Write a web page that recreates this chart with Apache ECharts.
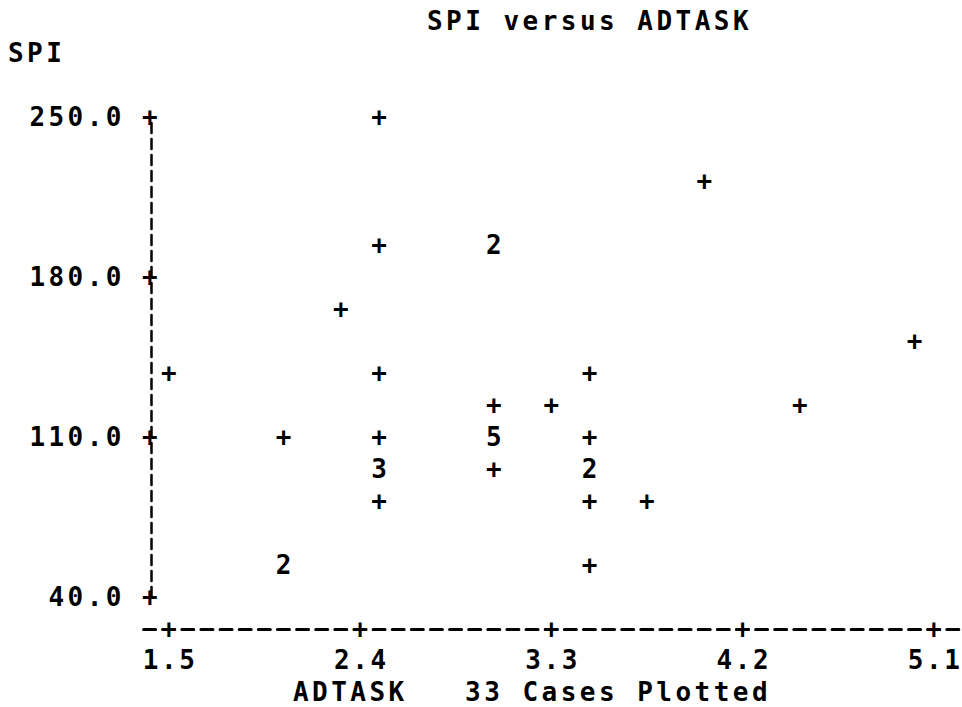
<!DOCTYPE html>
<html>
<head>
<meta charset="utf-8">
<script src="https://cdn.jsdelivr.net/npm/echarts@6/dist/echarts.min.js"></script>
<style>
  html, body { margin: 0; padding: 0; background: #fff; }
  #main { width: 962px; height: 707px; }
  #main text { letter-spacing: 3.47px; white-space: pre; }
  #main text[text-anchor="middle"] { letter-spacing: 2.6px; }
</style>
</head>
<body>
<div id="main"></div>
<script>
// Data (ADTASK, SPI, number of cases at that cell)
const adtask = [2.49, 2.49, 3.03, 4.02, 2.31, 5.01, 1.50, 2.49, 3.48, 3.03, 3.30, 4.47, 2.04, 2.49, 3.03, 3.48, 2.49, 3.03, 3.48, 2.49, 3.48, 3.75, 2.04, 3.48];
const spi    = [250,  194,  194,  222,  166,  152,  138,  138,  138,  124,  124,  124,  110,  110,  110,  110,  96,   96,   96,   82,   82,   82,   54,   54];
const cases  = [1,    1,    2,    1,    1,    1,    1,    1,    1,    1,    1,    1,    1,    1,    5,    1,    3,    1,    2,    1,    1,    1,    2,    1];
const xTicks = [1.5, 2.4, 3.3, 4.2, 5.1];
const yTicks = [40, 110, 180, 250];
const titleText = 'SPI versus ADTASK';
const yName = 'SPI';
const footer = 'ADTASK   33 Cases Plotted';

const FONT = 'DejaVu Sans Mono';
const FS = 26;
const txt = { fontFamily: FONT, fontSize: FS, color: '#000', fontWeight: 'bold', lineHeight: 26 };

const points = adtask.map((x, i) => [x, spi[i], cases[i]]);

const chart = echarts.init(document.getElementById('main'), null, { renderer: 'svg' });
chart.setOption({
  animation: false,
  backgroundColor: '#fff',
  title: [
    { text: titleText, left: 427, top: 8, padding: 0, textStyle: txt },
    { text: yName, left: 8, top: 40, padding: 0, textStyle: txt },
    { text: footer, left: 293, top: 679, padding: 0, textStyle: txt }
  ],
  grid: { left: 141.4375, top: 117, width: 820.5625, height: 480 },
  xAxis: [
    {
      type: 'value', min: 1.365, max: 5.2265, offset: 32, position: 'bottom',
      axisLine: { onZero: false, lineStyle: { color: '#000', width: 3, type: [12, 7.125], dashOffset: 16.66 } },
      axisTick: { show: false }, splitLine: { show: false },
      axisLabel: Object.assign({ customValues: xTicks, formatter: v => v.toFixed(1), margin: 18 }, txt)
    },
    {
      type: 'value', min: 1.365, max: 5.2265, offset: 32, position: 'bottom',
      axisLine: { show: false }, axisTick: { show: false }, splitLine: { show: false },
      axisLabel: Object.assign({ customValues: xTicks, formatter: () => '+', margin: -13 }, txt)
    }
  ],
  yAxis: [
    {
      type: 'value', min: 40, max: 250, position: 'left', offset: -9.5625,
      axisLine: { show: true, onZero: false, lineStyle: { color: '#000', width: 2.5, type: [10, 6] } },
      axisTick: { show: false }, splitLine: { show: false },
      axisLabel: Object.assign({ customValues: yTicks, formatter: v => v.toFixed(1), margin: 26 }, txt)
    },
    {
      type: 'value', min: 40, max: 250, position: 'left', offset: -9.5625,
      axisLine: { show: false }, axisTick: { show: false }, splitLine: { show: false },
      axisLabel: Object.assign({ customValues: yTicks, formatter: () => '+', margin: 0, align: 'center' }, txt)
    }
  ],
  series: [{
    type: 'scatter', xAxisIndex: 0, yAxisIndex: 0,
    data: points,
    symbolSize: 1,
    itemStyle: { color: 'rgba(0,0,0,0)', opacity: 1 },
    label: Object.assign({ show: true, position: 'inside', formatter: p => p.data[2] > 1 ? String(p.data[2]) : '+' }, txt)
  }]
});
</script>
</body>
</html>
